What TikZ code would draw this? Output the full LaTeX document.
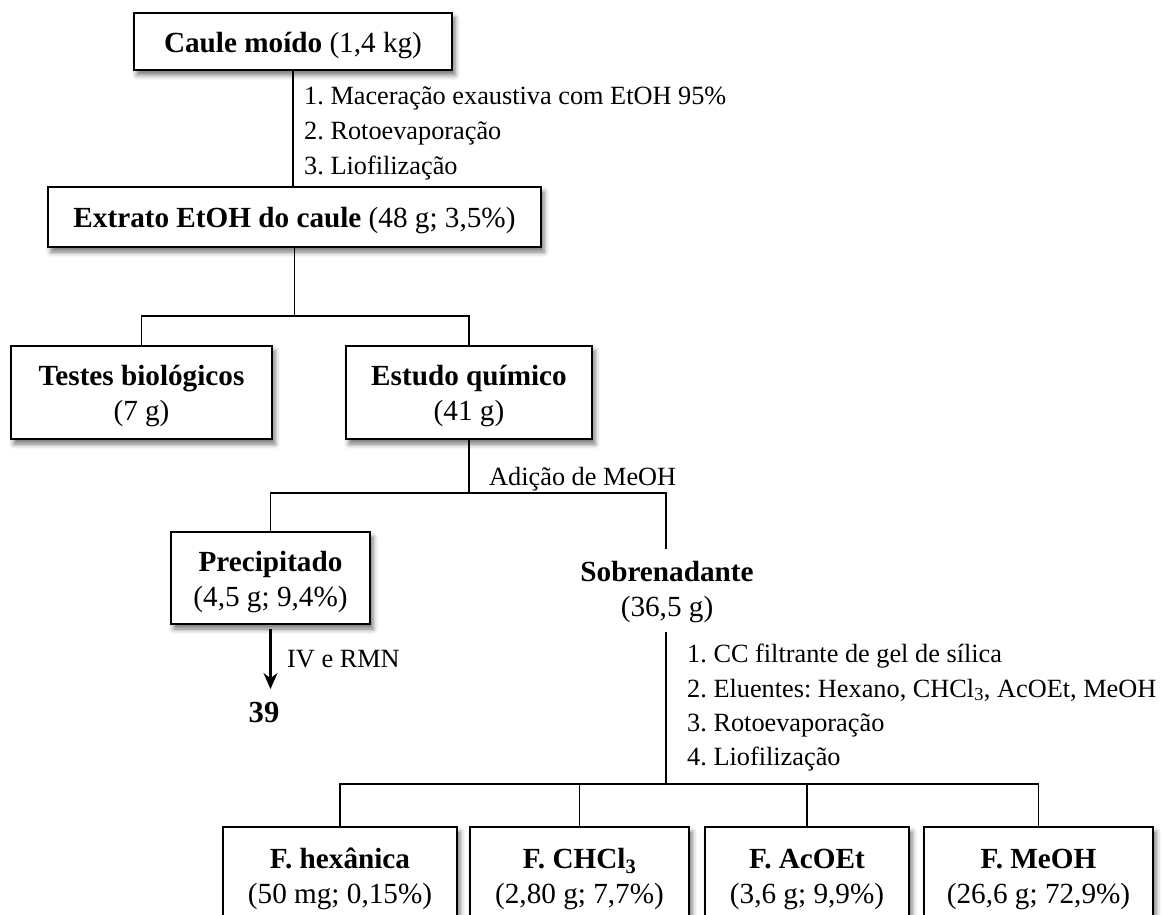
\documentclass[tikz,border=0pt]{standalone}
\usepackage{fontspec}
\setmainfont{Liberation Serif}
\usetikzlibrary{shadows.blur,arrows.meta}
% strut that lowers the text block inside the boxes a little
\newcommand{\boxstrut}{\rule{0pt}{28pt}}
\frenchspacing

\begin{document}
\begin{tikzpicture}[x=1pt,y=-1pt,
  box/.style={draw=black, line width=1.7pt, fill=white, rectangle, inner sep=0pt,
    align=center, font=\fontsize{29.2}{35}\selectfont,
    blur shadow={shadow xshift=3pt, shadow yshift=-5pt, shadow blur radius=5pt, shadow opacity=55}},
  plain/.style={inner sep=0pt, align=center, font=\fontsize{29.2}{35}\selectfont},
  note/.style={inner sep=0pt, anchor=base west, font=\fontsize{26.3}{35}\selectfont},
  link/.style={draw=black, line width=1.2pt},
]
\useasboundingbox (0,0) rectangle (1163,915);

% ---- boxes ----
\node[box, minimum width=318pt, minimum height=57pt] (caule) at (293,41.5)
  {\boxstrut\textbf{Caule moído} (1,4 kg)};
\node[box, minimum width=493pt, minimum height=60pt] (extrato) at (294.5,217)
  {\boxstrut\textbf{Extrato EtOH do caule} (48 g; 3,5\%)};
\node[box, minimum width=261pt, minimum height=93pt] (testes) at (141.5,392.5)
  {\boxstrut\textbf{Testes biológicos}\\(7 g)};
\node[box, minimum width=246pt, minimum height=93pt] (estudo) at (469,392.5)
  {\boxstrut\textbf{Estudo químico}\\(41 g)};
\node[box, minimum width=199pt, minimum height=92pt] (precip) at (270.5,578)
  {\boxstrut\textbf{Precipitado}\\(4,5 g; 9,4\%)};
\node[plain] (sobre) at (667,592) {\textbf{Sobrenadante}\\(36,5 g)};
\node[box, minimum width=234pt, minimum height=97pt] (fhex) at (340,875.5)
  {\boxstrut\textbf{F. hexânica}\\(50 mg; 0,15\%)};
\node[box, minimum width=219pt, minimum height=97pt] (fchcl) at (579.5,875.5)
  {\boxstrut\textbf{F. CHCl\textsubscript{3}}\\(2,80 g; 7,7\%)};
\node[box, minimum width=204pt, minimum height=97pt] (facoet) at (807,875.5)
  {\boxstrut\textbf{F. AcOEt}\\(3,6 g; 9,9\%)};
\node[box, minimum width=229pt, minimum height=97pt] (fmeoh) at (1038.5,875.5)
  {\boxstrut\textbf{F. MeOH}\\(26,6 g; 72,9\%)};
\node[plain, font=\fontsize{30.6}{35}\selectfont] (n39) at (264,712.5) {\textbf{39}};

% ---- step notes ----
\node[note] (s1) at (304,105) {1. Maceração exaustiva com EtOH 95\%};
\node[note] (s2) at (304,140) {2. Rotoevaporação};
\node[note] (s3) at (304,175) {3. Liofilização};
\node[note] (meoh) at (489,485) {Adição de MeOH};
\node[note] (ivr) at (287,667) {IV e RMN};
\node[note] (c1) at (687,662) {1. CC filtrante de gel de sílica};
\node[note] (c2) at (687,697) {2. Eluentes: Hexano, CHCl\textsubscript{3}, AcOEt, MeOH};
\node[note] (c3) at (687,731) {3. Rotoevaporação};
\node[note] (c4) at (687,765) {4. Liofilização};

% ---- connectors ----
\coordinate (bus1) at (0,316);
\coordinate (bus2) at (0,493);
\coordinate (bus3) at (0,784);
\coordinate (sobretop) at (666,549);
\coordinate (sobrebot) at (666,632);

\draw[link] (caule.south) -- (caule.south |- extrato.north);
\draw[link] (extrato.south) -- (extrato.south |- bus1);
\draw[link] (testes.north) -- (testes.north |- bus1) -- (estudo.north |- bus1) -- (estudo.north);
\draw[link] (estudo.south) -- (estudo.south |- bus2);
\draw[link] (precip.north) -- (precip.north |- bus2) -- (sobretop |- bus2) -- (sobretop);
\draw[link] (sobrebot) -- (sobrebot |- bus3);
\draw[link] (fhex.north) -- (fhex.north |- bus3) -- (fmeoh.north |- bus3) -- (fmeoh.north);
\draw[link] (fchcl.north) -- (fchcl.north |- bus3);
\draw[link] (facoet.north) -- (facoet.north |- bus3);
\draw[line width=2.2pt, -{Stealth[length=16pt, width=14pt]}, shorten <=4pt, shorten >=13pt]
  (precip.south) -- (precip.south |- n39.north);
\end{tikzpicture}
\end{document}
